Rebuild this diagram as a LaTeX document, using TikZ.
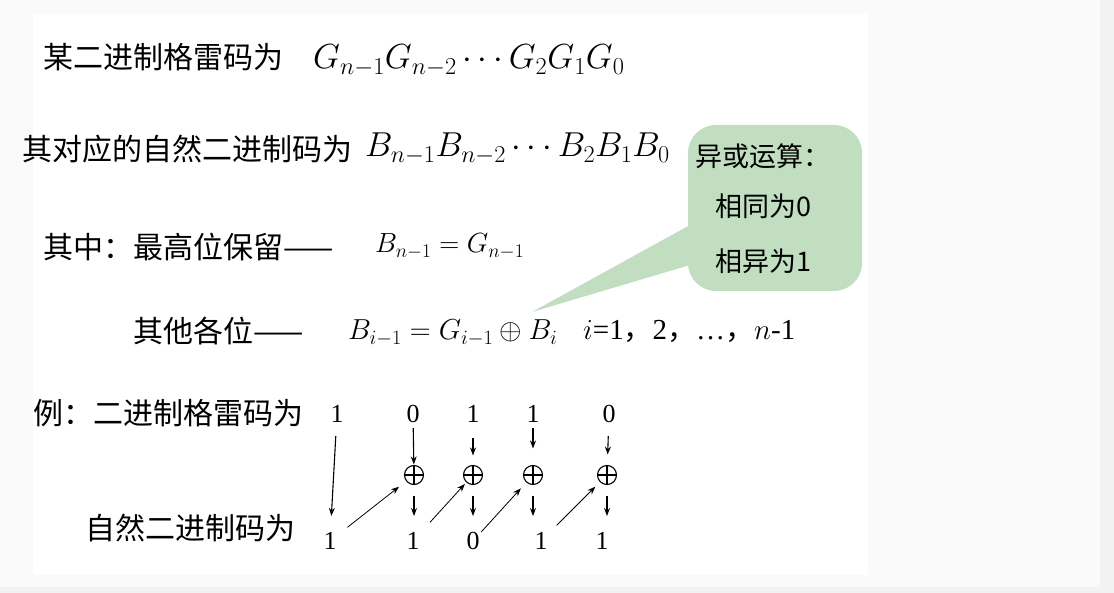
\documentclass[tikz,border=0pt]{standalone}
\usepackage{fix-cm}
\usepackage{fontspec}
\setmainfont{Liberation Serif}
\newfontfamily\cjk{Noto Sans CJK SC}
\usepackage{tikz}
\usetikzlibrary{arrows.meta}
\definecolor{outerbg}{RGB}{242,242,242}
\definecolor{panelbg}{RGB}{250,250,250}
\definecolor{notegreen}{RGB}{193,222,193}

\begin{document}
\begin{tikzpicture}[x=1pt,y=-1pt,
  txt/.style={anchor=west,inner sep=0pt,font=\cjk\fontsize{30}{34}\selectfont},
  formula/.style={anchor=base west,inner sep=0pt,font=\fontsize{#1}{34}\selectfont},
  notetxt/.style={anchor=west,inner sep=0pt,font=\cjk\fontsize{27}{30}\selectfont},
  bit/.style={circle,inner sep=0pt,minimum size=24pt,font=\fontsize{26}{30}\selectfont},
  xor/.style={circle,draw,line width=1.1pt,inner sep=0pt,minimum size=19pt,
    path picture={\draw[line width=1.1pt] (path picture bounding box.north) -- (path picture bounding box.south)
      (path picture bounding box.west) -- (path picture bounding box.east);}},
  arr/.style={-{Stealth[length=8pt,width=6pt]},line width=1.1pt}]
  \useasboundingbox (0,0) rectangle (1114,593);
  % page background
  \fill[outerbg] (0,0) rectangle (1114,593);
  \fill[panelbg] (0,0) rectangle (1100,587);
  \fill[white] (33,14) rectangle (868,575);

  % callout
  \fill[notegreen,rounded corners=28pt] (688,125) rectangle (862,291);
  \coordinate (tip) at (532,312);
  \fill[notegreen] (690,225) -- (tip) -- (690,265) -- cycle;
  \node[notetxt] (n1) at (695,156) {异或运算：};
  \node[notetxt] (n2) at (715,206) {相同为0};
  \node[notetxt] (n3) at (715,261) {相异为1};

  % definitions
  \node[txt] (gray) at (43,57) {某二进制格雷码为};
  \node[formula=34.8] (gseq) at (313,69) {$G_{n-1}G_{n-2}\cdots G_2G_1G_0$};
  \node[txt] (nat) at (22,149) {其对应的自然二进制码为};
  \node[formula=34.6] (bseq) at (365,157) {$B_{n-1}B_{n-2}\cdots B_2B_1B_0$};
  \node[txt] (top) at (43,247) {其中：最高位保留——};
  \node[formula=27.7] (topeq) at (375,253) {$B_{n-1}=G_{n-1}$};
  \node[txt] (rest) at (133,331) {其他各位——};
  \node[formula=28.9] (resteq) at (348,340) {$B_{i-1}=G_{i-1}\oplus B_i$};
  \node[formula=29] (range) at (583,340) {$i$=1{\cjk，}2{\cjk，}\ldots{\cjk，}$n$-1};

  % example
  \node[txt] (exg) at (33,413) {例：二进制格雷码为};
  \node[txt] (exb) at (85,528) {自然二进制码为};

  \node[bit] (g0) at (337,414) {1};
  \node[bit] (g1) at (413,414) {0};
  \node[bit] (g2) at (473,414) {1};
  \node[bit] (g3) at (533,414) {1};
  \node[bit] (g4) at (609,414) {0};

  \node[xor] (x1) at (414,475) {};
  \node[xor] (x2) at (473,475) {};
  \node[xor] (x3) at (533,475) {};
  \node[xor] (x4) at (607,475) {};

  \node[bit] (b0) at (330,541) {1};
  \node[bit] (b1) at (413,541) {1};
  \node[bit] (b2) at (473,541) {0};
  \node[bit] (b3) at (541,541) {1};
  \node[bit] (b4) at (602,541) {1};

  \draw[arr,shorten <=10pt,shorten >=13pt] (g0) -- (b0);
  \draw[arr,shorten <=2pt,shorten >=0.5pt] (g1) -- (x1);
  \draw[arr,shorten <=12pt,shorten >=9.5pt] (g2) -- (x2);
  \draw[arr,shorten <=2pt,shorten >=16.5pt] (g3) -- (x3);
  \draw[arr,shorten <=10pt,shorten >=10.5pt] (g4) -- (x4);

  \draw[arr,shorten <=10.5pt,shorten >=25pt] (x1) -- (x1 |- b1);
  \draw[arr,shorten <=10.5pt,shorten >=25pt] (x2) -- (x2 |- b2);
  \draw[arr,shorten <=10.5pt,shorten >=25pt] (x3) -- (x3 |- b3);
  \draw[arr,shorten <=10.5pt,shorten >=25pt] (x4) -- (x4 |- b4);

  \draw[arr,line width=0.8pt,shorten <=10pt,shorten >=9pt] (b0) -- (x1);
  \draw[arr,line width=0.8pt,shorten <=13pt,shorten >=2pt] (b1) -- (x2);
  \draw[arr,line width=0.8pt,shorten <=0pt,shorten >=8pt] (b2) -- (x3);
  \draw[arr,line width=0.8pt,shorten <=10pt,shorten >=6.5pt] (b3) -- (x4);
\end{tikzpicture}
\end{document}
